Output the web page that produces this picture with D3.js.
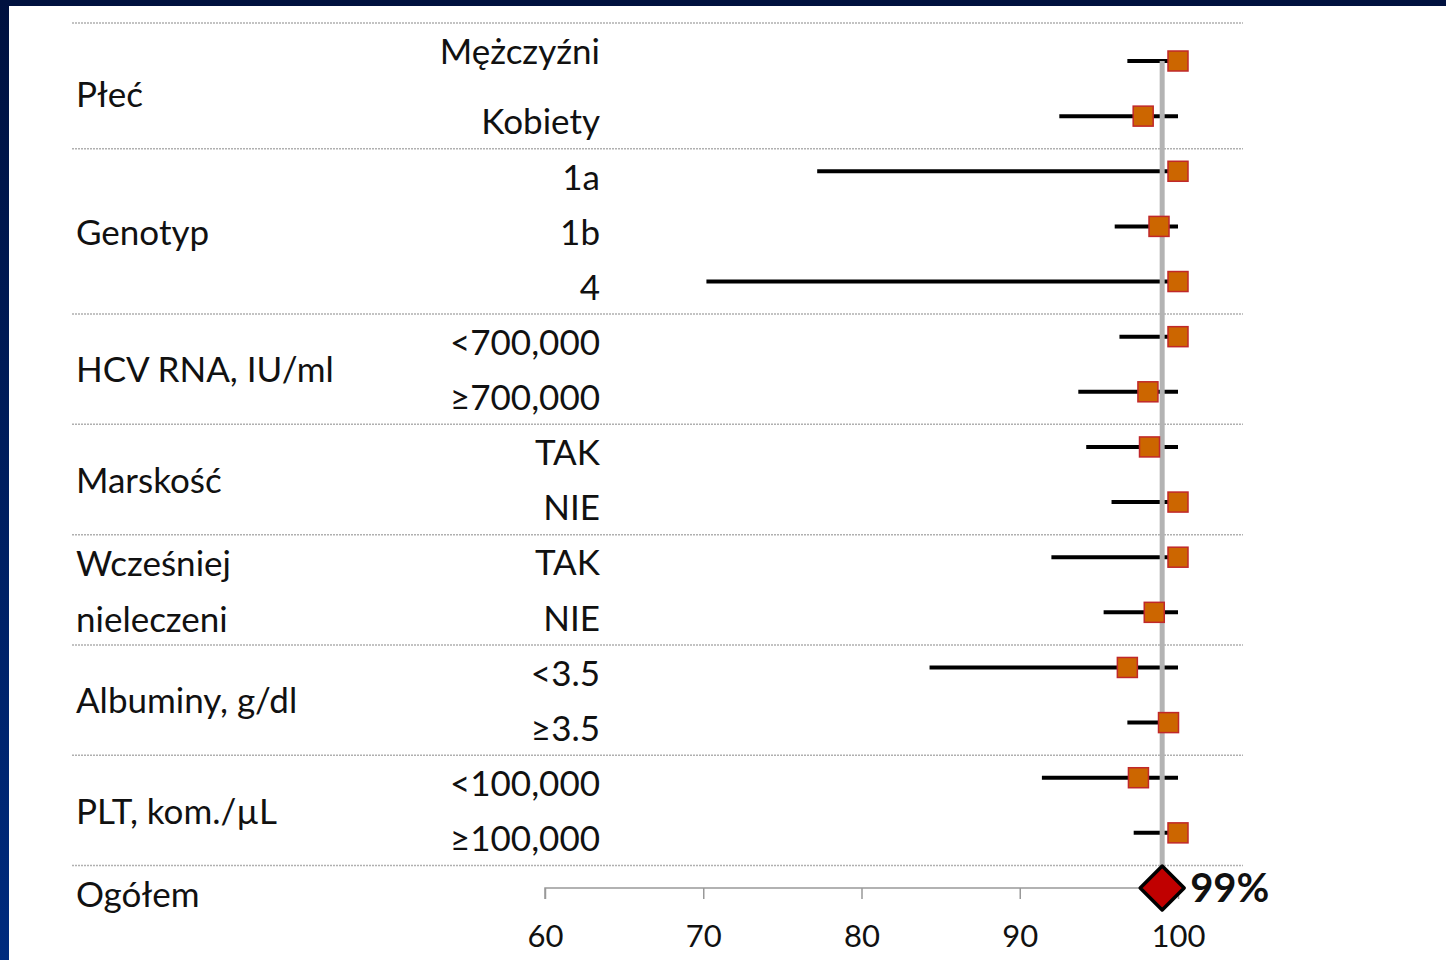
<!DOCTYPE html>
<meta charset="utf-8">
<style>
body { margin: 0; overflow: hidden; }
text { font-family: Lato, "Open Sans", sans-serif; fill: #111; }
.sep { stroke: #b0b0b0; stroke-width: 1.5px; stroke-dasharray: 2,1; }
.ci { stroke: #000; stroke-width: 4px; }
.ref { stroke: #b3b3b3; stroke-width: 5px; }
.axis path, .axis line { stroke: #999; stroke-width: 1.5px; }
</style>
<body>
<script src="https://d3js.org/d3.v7.min.js"></script>
<script>

var width = 1446,
    height = 960;

// groups and rows
var groups = ["Płeć", "Genotyp", "HCV RNA, IU/ml", "Marskość", "Wcześniej\nnieleczeni", "Albuminy, g/dl", "PLT, kom./µL"];
var rowLabels = ["Mężczyźni", "Kobiety", "1a", "1b", "4", "<700,000", "≥700,000", "TAK", "NIE", "TAK", "NIE", "<3.5", "≥3.5", "<100,000", "≥100,000"];
var rowGroup = [0, 0, 1, 1, 1, 2, 2, 3, 3, 4, 4, 5, 5, 6, 6];
var estimate = [100, 97.8, 100, 98.8, 100, 100, 98.1, 98.2, 100, 100, 98.5, 96.8, 99.4, 97.5, 100];
var lower = [96.8, 92.5, 77.2, 96.0, 70.2, 96.3, 93.7, 94.2, 95.8, 92.0, 95.3, 84.3, 96.8, 91.4, 97.2];
var upper = [100, 100, 100, 100, 100, 100, 100, 100, 100, 100, 100, 100, 100, 100, 100];
var overallLabel = "Ogółem";
var overall = 99;
var xTicks = [60, 70, 80, 90, 100];

var svg = d3.select("body").append("svg")
    .attr("width", width)
    .attr("height", height);

// slide background
var grad = svg.append("defs").append("linearGradient")
    .attr("id", "bg").attr("x1", 0).attr("y1", 0).attr("x2", 0).attr("y2", 1);
grad.append("stop").attr("offset", "0%").attr("stop-color", "#00113f");
grad.append("stop").attr("offset", "100%").attr("stop-color", "#002b7e");
svg.append("rect").attr("width", width).attr("height", height).attr("fill", "url(#bg)");
svg.append("rect").attr("x", 9).attr("y", 6).attr("width", width - 9).attr("height", height - 6).attr("fill", "#fff");

var x = d3.scaleLinear().domain([60, 100]).range([545, 1178]);
var y = d3.scalePoint().domain(d3.range(rowLabels.length + 1)).range([61, 888]);
var left = 72, right = 1243;
var fs = 35;

// separators: top, between groups, before overall
var seps = [y(0) - 38];
rowGroup.forEach(function(g, i) {
  if (i > 0 && g !== rowGroup[i - 1]) seps.push((y(i - 1) + y(i)) / 2 + 5);
});
seps.push((y(rowLabels.length - 1) + y(rowLabels.length)) / 2 + 5);

svg.selectAll(".sep")
    .data(seps)
    .enter().append("line")
    .attr("class", "sep")
    .attr("x1", left).attr("x2", right)
    .attr("y1", function(d) { return d; })
    .attr("y2", function(d) { return d; });

// group labels
groups.forEach(function(g, gi) {
  var idx = d3.range(rowLabels.length).filter(function(i) { return rowGroup[i] === gi; });
  var lines = g.split("\n");
  var t = svg.append("text")
      .attr("x", 76)
      .attr("font-size", fs);
  if (lines.length === 1) {
    t.attr("y", d3.mean(idx, function(i) { return y(i); }) + 6)
     .attr("dy", "0.35em")
     .text(g);
  } else {
    lines.forEach(function(l, k) {
      t.append("tspan")
        .attr("x", 76)
        .attr("y", y(idx[k]) + 7)
        .attr("dy", "0.35em")
        .text(l);
    });
  }
});

svg.append("text")
    .attr("x", 76)
    .attr("y", y(rowLabels.length) + 7)
    .attr("dy", "0.35em")
    .attr("font-size", fs)
    .text(overallLabel);

// row labels
svg.selectAll(".rowlabel")
    .data(rowLabels)
    .enter().append("text")
    .attr("class", "rowlabel")
    .attr("x", 600)
    .attr("y", function(d, i) { return y(i) + (i === 0 ? -9 : 6); })
    .attr("dy", "0.35em")
    .attr("text-anchor", "end")
    .attr("font-size", fs)
    .text(function(d) { return d; });

// axis
var axis = svg.append("g")
    .attr("class", "axis")
    .attr("transform", "translate(0," + y(rowLabels.length) + ")")
    .call(d3.axisBottom(x).tickValues(xTicks).tickSize(11).tickSizeOuter(0).tickPadding(26));
axis.select(".domain").attr("d", "M" + x(60) + ",11V0H" + x(100));
axis.selectAll("text")
    .attr("font-size", 31)
    .attr("font-family", "Lato, sans-serif")
    .attr("fill", "#111");

// confidence intervals
svg.selectAll(".ci")
    .data(rowLabels)
    .enter().append("line")
    .attr("class", "ci")
    .attr("x1", function(d, i) { return x(lower[i]); })
    .attr("x2", function(d, i) { return x(upper[i]); })
    .attr("y1", function(d, i) { return y(i); })
    .attr("y2", function(d, i) { return y(i); });

// reference line at overall value
svg.append("line")
    .attr("class", "ref")
    .attr("x1", x(overall)).attr("x2", x(overall))
    .attr("y1", y(0)).attr("y2", y(rowLabels.length));

// point estimates
var s = 20;
svg.selectAll(".pt")
    .data(rowLabels)
    .enter().append("rect")
    .attr("class", "pt")
    .attr("x", function(d, i) { return x(estimate[i]) - s / 2; })
    .attr("y", function(d, i) { return y(i) - s / 2; })
    .attr("width", s).attr("height", s)
    .attr("fill", "#cc6600")
    .attr("stroke", "#c0282a")
    .attr("stroke-width", 1.5);

// overall diamond
var dx = x(overall), dy = y(rowLabels.length), h = 22;
svg.append("path")
    .attr("d", "M" + (dx - h) + "," + dy + "L" + dx + "," + (dy - h) + "L" + (dx + h) + "," + dy + "L" + dx + "," + (dy + h) + "Z")
    .attr("fill", "#c00000")
    .attr("stroke", "#000")
    .attr("stroke-width", 3.5)
    .attr("stroke-linejoin", "round");

svg.append("text")
    .attr("x", dx + h + 6)
    .attr("y", dy)
    .attr("dy", "0.36em")
    .attr("font-size", 40)
    .attr("font-weight", "bold")
    .text(overall + "%");

</script>
</body>
